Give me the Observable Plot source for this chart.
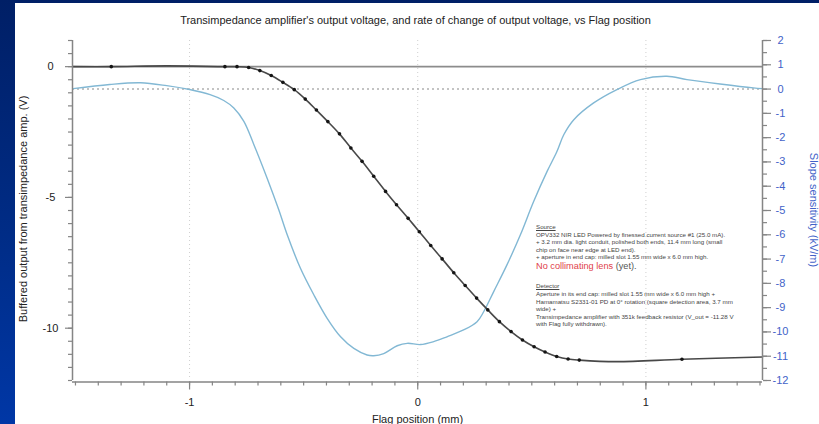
<!DOCTYPE html>
<html><head><meta charset="utf-8">
<script src="https://cdn.jsdelivr.net/npm/d3@7"></script>
<script src="https://cdn.jsdelivr.net/npm/@observablehq/plot@0.6"></script>
<style>
html,body{margin:0;padding:0;}
body{width:819px;height:424px;overflow:hidden;position:relative;background:linear-gradient(to bottom,#001f66 0%,#002c86 55%,#0037a6 100%);font-family:"Liberation Sans",Arial,sans-serif;}
#panel{position:absolute;left:15px;top:3px;right:0;bottom:0;background:#fff;}
#chart{position:absolute;left:0;top:0;}
.lbl{position:absolute;white-space:nowrap;font-size:11px;line-height:13px;color:#222;}
#note{position:absolute;left:536px;top:223.3px;font-size:6.2px;color:#444;white-space:nowrap;}
#note .a{line-height:7.4px;}
#note .b{line-height:7.6px;}
#note .u{text-decoration:underline;}
#note .red{font-size:9.2px;line-height:12px;color:#e0404a;}
#note .red span{color:#555;}
#note .gap{height:10px;}
</style></head>
<body>
<div id="panel"></div>
<div id="chart"></div>
<div class="lbl" id="title" style="left:415.5px;top:13.5px;transform:translateX(-50%);"></div>
<div class="lbl" id="ylab" style="left:23px;top:208.5px;transform:translate(-50%,-50%) rotate(-90deg);"></div>
<div class="lbl" id="y2lab" style="left:813px;top:209.5px;transform:translate(-50%,-50%) rotate(90deg);color:#4262c8;"></div>
<div class="lbl" id="xlab" style="left:417.5px;top:418.7px;transform:translate(-50%,-50%);"></div>
<div id="note"></div>
<script>
// ---------- text ----------
const titleText = "Transimpedance amplifier's output voltage, and rate of change of output voltage, vs Flag position";
const xLabel = "Flag position (mm)";
const yLabel = "Buffered output from transimpedance amp. (V)";
const y2Label = "Slope sensitivity (kV/m)";
const sourceHead = "Source";
const sourceLines = [
  "OPV332 NIR LED Powered by finessed current source #1 (25.0 mA).",
  "+  3.2 mm dia. light conduit, polished both ends, 11.4 mm long (small",
  "chip on face near edge at LED end).",
  "+ aperture in end cap: milled slot 1.55 mm wide x 6.0 mm high."
];
const redText = "No collimating lens";
const redTail = " (yet).";
const detectorHead = "Detector";
const detectorLines = [
  "Aperture in its end cap: milled slot 1.55 mm wide x 6.0 mm high +",
  "Hamamatsu S2331-01 PD at 0\u00b0 rotation (square detection area, 3.7 mm",
  "wide) +",
  "Transimpedance amplifier with 351k feedback resistor (V_out = -11.28 V",
  "with Flag fully withdrawn)."
];

// ---------- ticks ----------
const xDomain = [-1.513, 1.511];
const yDomain = [-12, 1];      // left axis (V)
const y2Domain = [-12, 2];     // right axis (kV/m)
const xMajor = [-1, 0, 1];
const yMajor = [0, -5, -10];
const y2Major = [2, 1, 0, -1, -2, -3, -4, -5, -6, -7, -8, -9, -10, -11, -12];
const xGrid = [-1, 0, 1];

// ---------- data: output voltage (measured points, dots) ----------
const voltX = [-1.343, -0.845, -0.792, -0.741, -0.692, -0.642, -0.591, -0.541, -0.493, -0.444,
  -0.394, -0.343, -0.293, -0.244, -0.193, -0.141, -0.093, -0.042, 0.007, 0.057,
  0.107, 0.158, 0.208, 0.258, 0.307, 0.358, 0.409, 0.459, 0.510, 0.558,
  0.609, 0.659, 0.708, 1.158];
const voltY = [0, 0, 0, -0.03, -0.15, -0.34, -0.60, -0.88, -1.24, -1.66,
  -2.10, -2.57, -3.11, -3.62, -4.19, -4.77, -5.28, -5.80, -6.31, -6.84,
  -7.35, -7.88, -8.37, -8.85, -9.30, -9.75, -10.13, -10.45, -10.71, -10.91,
  -11.08, -11.18, -11.22, -11.19];
// extra points (no markers)
const fitX = [-1.513, -1.10, 0.87, 1.511];
const fitY = [0, 0.03, -11.28, -11.10];

// ---------- data: slope sensitivity (kV/m) ----------
const slopeX = [-1.51, -1.35, -1.215, -1.10, -1.0, -0.91, -0.85, -0.806, -0.762, -0.718,
  -0.66, -0.609, -0.572, -0.514, -0.455, -0.397, -0.338, -0.28, -0.222, -0.193,
  -0.149, -0.09, -0.046, 0.012, 0.07, 0.128, 0.201, 0.26, 0.289, 0.333,
  0.391, 0.45, 0.508, 0.567, 0.61, 0.64, 0.684, 0.771, 0.873, 0.976,
  1.092, 1.18, 1.325, 1.471, 1.51];
const slopeY = [0.02, 0.19, 0.26, 0.14, -0.02, -0.23, -0.47, -0.78, -1.33, -2.29,
  -3.67, -4.97, -6.0, -7.38, -8.48, -9.44, -10.2, -10.68, -10.95, -10.98,
  -10.89, -10.57, -10.47, -10.52, -10.40, -10.20, -9.92, -9.58, -9.17, -8.34,
  -7.24, -6.0, -4.63, -3.39, -2.57, -1.88, -1.26, -0.57, -0.02, 0.39,
  0.53, 0.39, 0.21, 0.05, 0.02];

// ---------- build ----------
const toL = r => yDomain[0] + (r - y2Domain[0]) * (yDomain[1] - yDomain[0]) / (y2Domain[1] - y2Domain[0]);
const toR = l => y2Domain[0] + (l - yDomain[0]) * (y2Domain[1] - y2Domain[0]) / (yDomain[1] - yDomain[0]);

const dots = voltX.map((x, i) => ({x, y: voltY[i]}));
const fitLine = dots.concat(fitX.map((x, i) => ({x, y: fitY[i]}))).sort((a, b) => a.x - b.x);
const slope = slopeX.map((x, i) => ({x, y: toL(slopeY[i])}));

const xMinor = d3.range(-1.5, 1.5001, 0.1).map(v => Math.round(v * 10) / 10);
const yMinor = d3.range(yDomain[0], yDomain[1] + 0.001, 0.5);
const y2Minor = d3.range(y2Domain[0], y2Domain[1] + 0.001, 0.5).map(toL);

const axisGray = "#858585";
const blueText = "#4262c8";
const blank = () => "";

const chart = Plot.plot({
  width: 819, height: 424,
  marginLeft: 72, marginRight: 57, marginTop: 40, marginBottom: 44,
  style: {background: "transparent", fontFamily: "Liberation Sans, Arial, sans-serif", fontSize: "11px", color: "#222", overflow: "visible"},
  x: {domain: xDomain, label: null},
  y: {domain: yDomain, label: null},
  marks: [
    Plot.ruleX(xGrid, {stroke: "#cfcfcf", strokeDasharray: "1,3", strokeWidth: 1}),
    Plot.ruleY([0], {stroke: "#8c8c8c", strokeWidth: 1.6}),
    Plot.ruleY([toL(0)], {stroke: "#b0b0b0", strokeWidth: 1.6, strokeDasharray: "2,3"}),
    Plot.line(slope, {x: "x", y: "y", stroke: "#82b8d4", strokeWidth: 1.4, curve: "catmull-rom"}),
    Plot.line(fitLine, {x: "x", y: "y", stroke: "#484848", strokeWidth: 1.6, curve: "catmull-rom"}),
    Plot.dot(dots, {x: "x", y: "y", r: 1.8, fill: "#151515", stroke: null}),
    // axis lines
    Plot.ruleX([xDomain[0], xDomain[1]], {stroke: axisGray, strokeWidth: 1.5}),
    Plot.ruleY([yDomain[0]], {stroke: axisGray, strokeWidth: 1.5, dy: 1.5}),
    // left axis
    Plot.axisY(yMinor, {anchor: "left", tickSize: 4, tickFormat: blank, stroke: axisGray, strokeWidth: 1.2}),
    Plot.axisY(yMajor, {anchor: "left", tickSize: 7, tickPadding: 15, textAnchor: "middle", tickFormat: d => String(d), stroke: axisGray, strokeWidth: 1.2, fill: "#222", fontSize: 11}),
    // right axis
    Plot.axisY(y2Minor, {anchor: "right", tickSize: 4, tickFormat: blank, stroke: axisGray, strokeWidth: 1.2}),
    Plot.axisY(y2Major.map(toL), {anchor: "right", tickSize: 8, tickPadding: 10, textAnchor: "middle", tickFormat: d => String(Math.round(toR(d))), stroke: axisGray, strokeWidth: 1.2, fill: blueText, fontSize: 11}),
    // bottom axis
    Plot.axisX(xMinor, {anchor: "bottom", tickSize: 4, tickFormat: blank, stroke: axisGray, strokeWidth: 1.2, dy: 1.5}),
    Plot.axisX(xMajor, {anchor: "bottom", tickSize: 8, tickPadding: 8, tickFormat: d => String(d), stroke: axisGray, strokeWidth: 1.2, fill: "#222", fontSize: 11, dy: 1.5})
  ]
});
document.getElementById("chart").appendChild(chart);

document.getElementById("title").textContent = titleText;
document.getElementById("xlab").textContent = xLabel;
document.getElementById("ylab").textContent = yLabel;
document.getElementById("y2lab").textContent = y2Label;

const note = document.getElementById("note");
function addLine(cls, text, extra) {
  const d = document.createElement("div");
  d.className = cls + (extra ? " " + extra : "");
  d.textContent = text;
  note.appendChild(d);
  return d;
}
addLine("a", sourceHead, "u");
sourceLines.forEach(t => addLine("a", t));
const r = addLine("red", redText);
const tail = document.createElement("span"); tail.textContent = redTail; r.appendChild(tail);
const g = document.createElement("div"); g.className = "gap"; note.appendChild(g);
addLine("b", detectorHead, "u");
detectorLines.forEach(t => addLine("b", t));
</script>
</body></html>
